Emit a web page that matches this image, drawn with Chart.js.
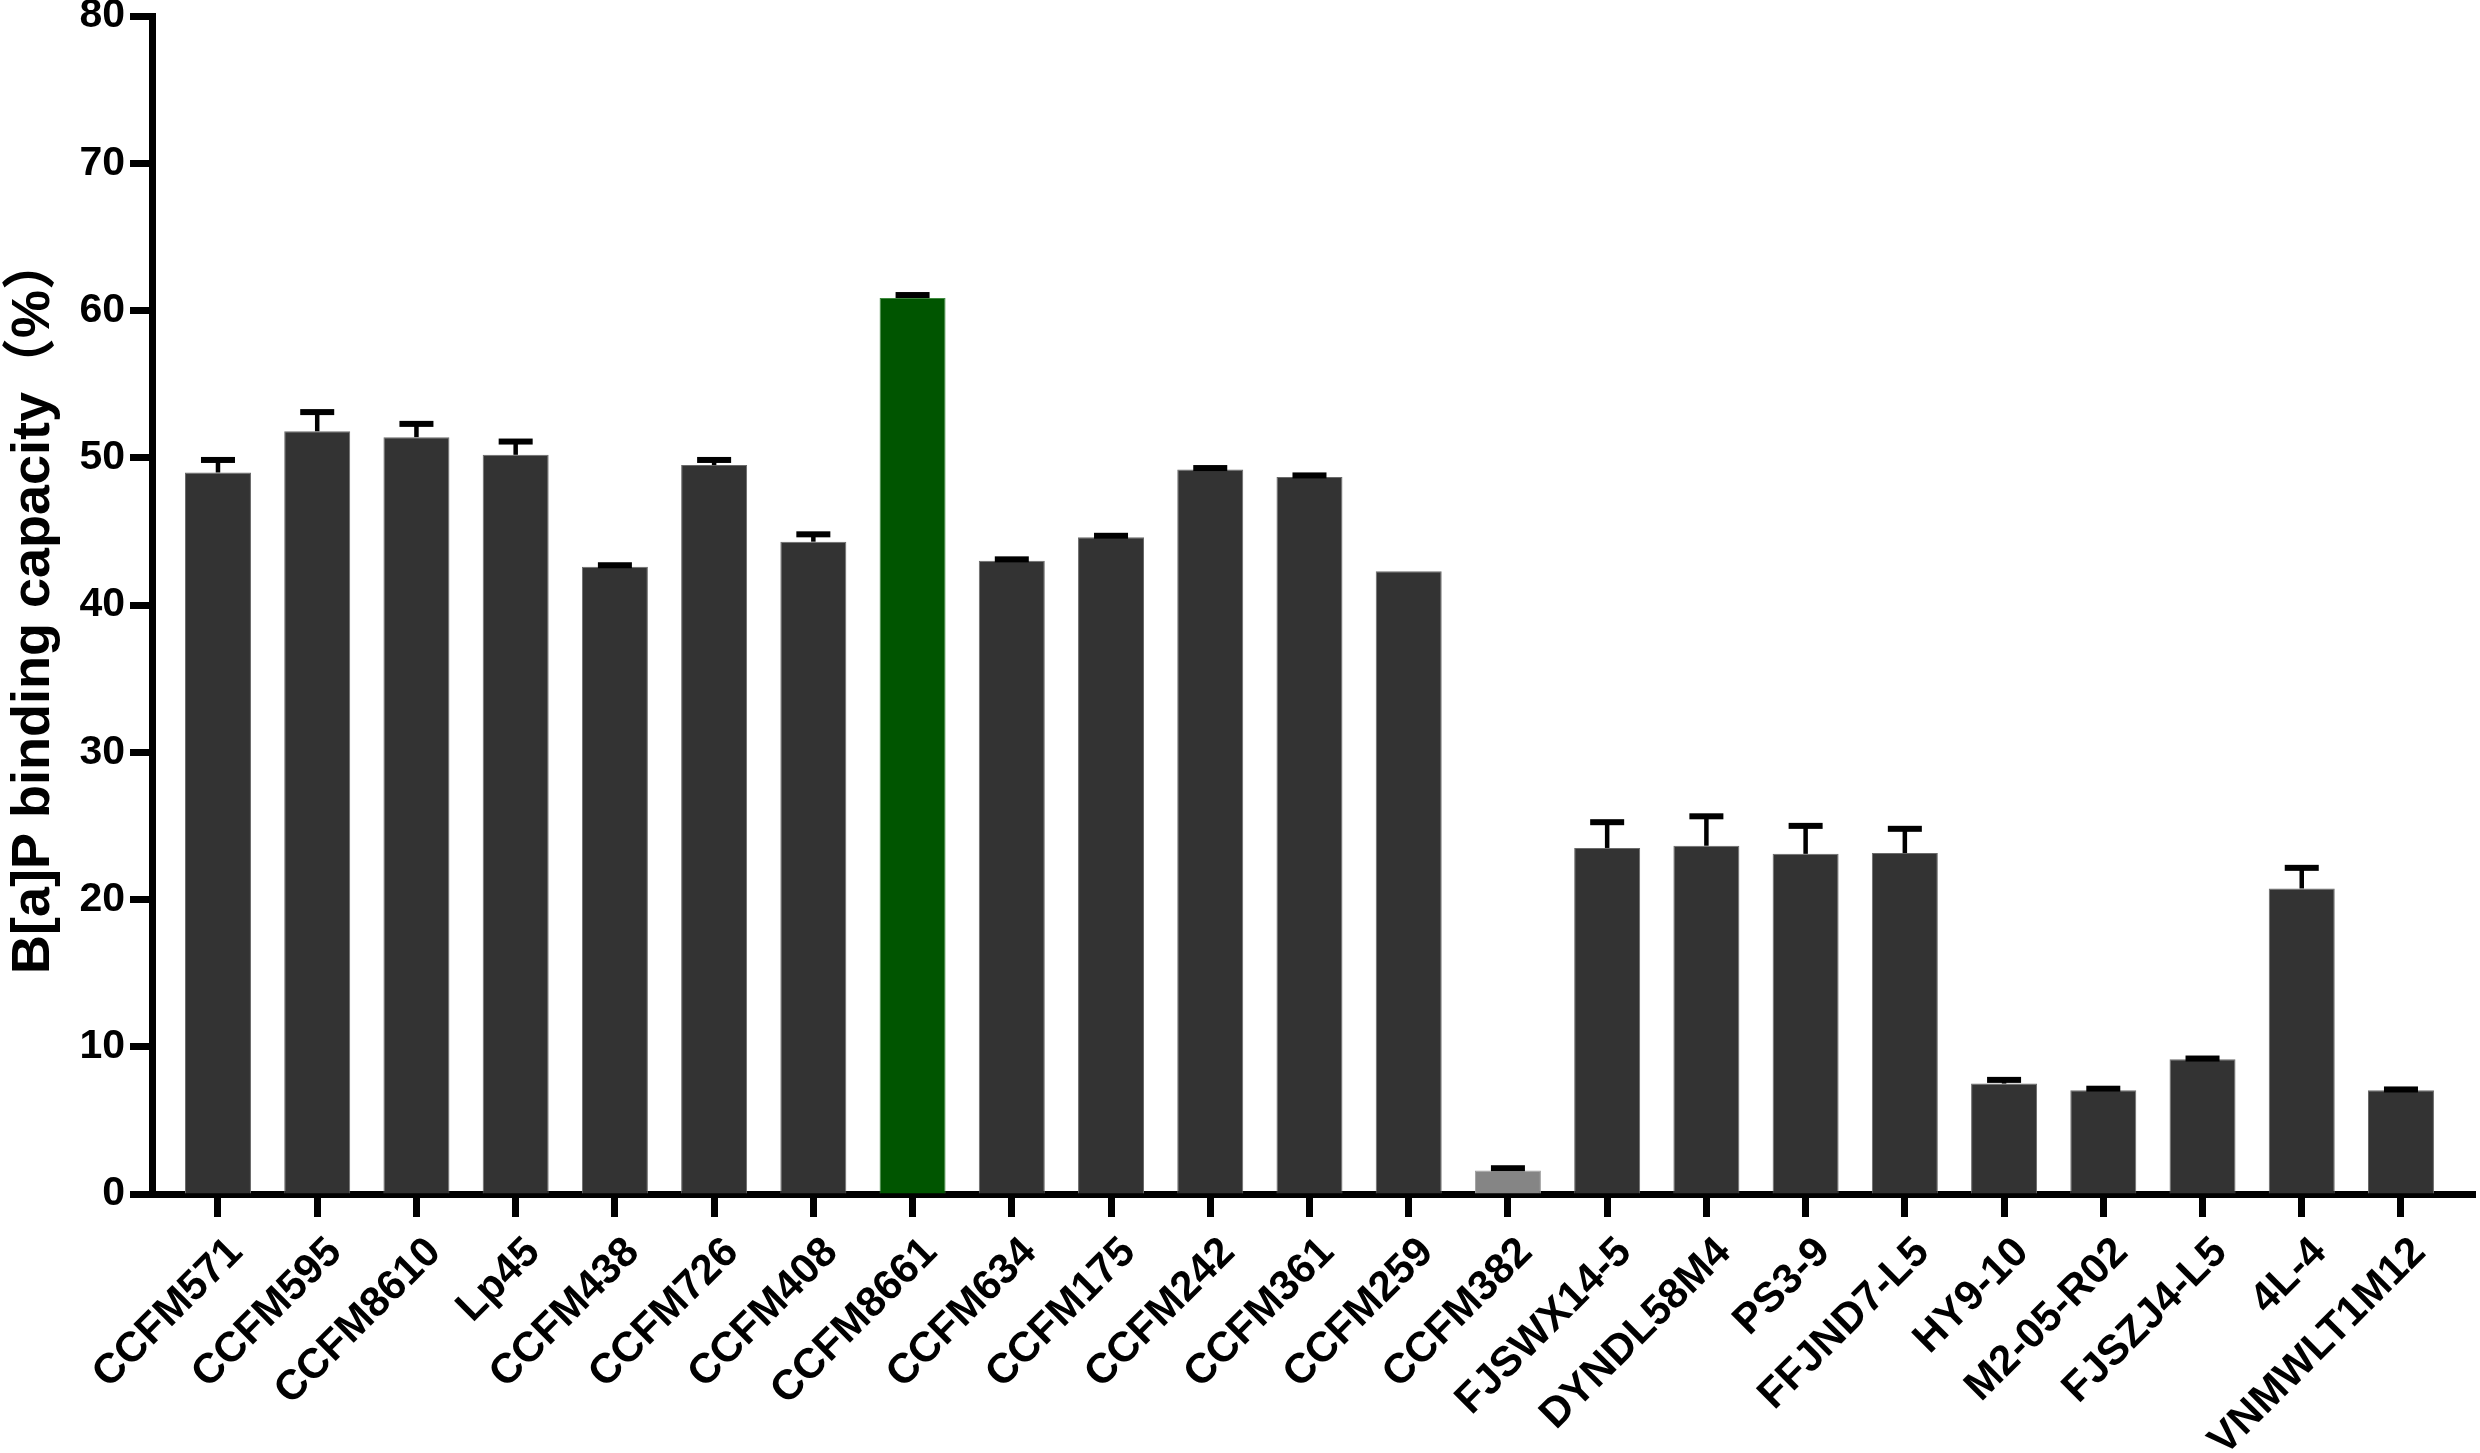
<!DOCTYPE html>
<html>
<head>
<meta charset="utf-8">
<script src="https://cdn.jsdelivr.net/npm/chart.js@4.4.1/dist/chart.umd.min.js"></script>
<style>
  html, body { margin: 0; padding: 0; background: #ffffff; }
  #wrap { width: 2480px; height: 1453px; position: relative; }
</style>
</head>
<body>
<div id="wrap"><canvas id="c" width="2480" height="1453"></canvas></div>
<script>
const categories = ['CCFM571','CCFM595','CCFM8610','Lp45','CCFM438','CCFM726','CCFM408','CCFM8661','CCFM634','CCFM175','CCFM242','CCFM361','CCFM259','CCFM382','FJSWX14-5','DYNDL58M4','PS3-9','FFJND7-L5','HY9-10','M2-05-R02','FJSZJ4-L5','4L-4','VNMWLT1M12'];
const values = [49.0, 51.8, 51.4, 50.2, 42.6, 49.5, 44.3, 60.85, 43.0, 44.6, 49.2, 48.7, 42.3, 1.6, 23.5, 23.65, 23.1, 23.15, 7.5, 7.05, 9.15, 20.75, 7.05];
const errors = [0.85, 1.3, 0.9, 0.9, 0.1, 0.35, 0.5, 0.2, 0.1, 0.1, 0.1, 0.1, 0.0, 0.15, 1.75, 2.0, 1.9, 1.65, 0.25, 0.1, 0.05, 1.4, 0.05];
const barColors = ['#333333','#333333','#333333','#333333','#333333','#333333','#333333','#005500','#333333','#333333','#333333','#333333','#333333','#858585','#333333','#333333','#333333','#333333','#333333','#333333','#333333','#333333','#333333'];
const barEdgeColors = ['#6a6a6a','#6a6a6a','#6a6a6a','#6a6a6a','#6a6a6a','#6a6a6a','#6a6a6a','#3f8a3f','#6a6a6a','#6a6a6a','#6a6a6a','#6a6a6a','#6a6a6a','#a0a0a0','#6a6a6a','#6a6a6a','#6a6a6a','#6a6a6a','#6a6a6a','#6a6a6a','#6a6a6a','#6a6a6a','#6a6a6a'];
const yTicks = [0, 10, 20, 30, 40, 50, 60, 70, 80];
const yTitle = 'B[a]P binding capacity（%）';

const FONT = "'Liberation Sans', Arial, Helvetica, sans-serif";

const errorBarPlugin = {
  id: 'errorBars',
  afterDatasetsDraw(chart) {
    const meta = chart.getDatasetMeta(0);
    const ys = chart.scales.y;
    const ctx = chart.ctx;
    ctx.save();
    ctx.fillStyle = '#000000';
    meta.data.forEach((bar, i) => {
      const e = errors[i];
      if (!e) return;
      const x = bar.x;
      const yTop = ys.getPixelForValue(values[i]);
      const yErr = ys.getPixelForValue(values[i] + e);
      ctx.fillRect(x - 2.25, yErr, 4.5, yTop - yErr);
      ctx.fillRect(x - 17, yErr - 3, 34, 6);
    });
    ctx.restore();
  }
};

new Chart(document.getElementById('c'), {
  type: 'bar',
  data: {
    datasets: [{
      data: values.map((v, i) => ({ x: i, y: v })),
      backgroundColor: barColors,
      borderColor: barEdgeColors,
      borderWidth: 1,
      categoryPercentage: 1.0,
      barPercentage: 0.665
    }]
  },
  options: {
    responsive: false,
    devicePixelRatio: 1,
    animation: false,
    layout: { padding: { top: 16, right: 5, left: 0, bottom: 0 } },
    plugins: { legend: { display: false }, tooltip: { enabled: false } },
    scales: {
      x: {
        type: 'linear',
        min: -0.665,
        max: 22.746,
        offset: false,
        afterBuildTicks: (s) => { s.ticks = categories.map((_, i) => ({ value: i })); },
        afterFit: (s) => { s.height = 259; s.paddingLeft = 0; s.paddingRight = 0; },
        ticks: {
          autoSkip: false,
          minRotation: 45,
          maxRotation: 45,
          labelOffset: 18,
          padding: 11,
          color: '#000000',
          font: { family: FONT, size: 42, weight: 'bold' },
          callback: (v) => categories[v]
        },
        grid: { offset: false, drawOnChartArea: false, drawTicks: true, tickLength: 23, tickWidth: 7, tickColor: '#000000' },
        border: { display: true, color: '#000000', width: 7 }
      },
      y: {
        min: 0,
        max: 80,
        afterBuildTicks: (s) => { s.ticks = yTicks.map(v => ({ value: v })); },
        afterFit: (s) => { s.width = 152; s.paddingTop = 0; s.paddingBottom = 0; },
        ticks: {
          padding: 5,
          color: '#000000',
          font: { family: FONT, size: 41, weight: 'bold' }
        },
        grid: { drawOnChartArea: false, drawTicks: true, tickLength: 22, tickWidth: 7, tickColor: '#000000' },
        border: { display: true, color: '#000000', width: 7 },
        title: {
          display: true,
          text: yTitle,
          color: '#000000',
          font: { family: "'Liberation Sans', 'Noto Sans CJK SC', Arial, sans-serif", size: 54, weight: 'bold' },
          padding: { top: 2, bottom: 0 }
        }
      }
    }
  },
  plugins: [errorBarPlugin]
});
</script>
</body>
</html>
